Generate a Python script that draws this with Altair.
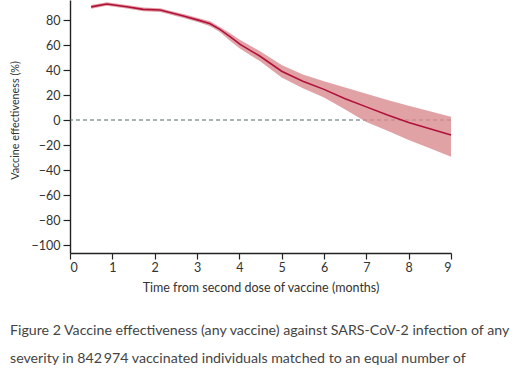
import altair as alt
import pandas as pd

months = [0.5, 0.87, 1.34, 1.73, 2.13, 2.36, 2.68, 3.07, 3.31, 3.54, 3.78, 4.02, 4.49,
          5.0, 5.5, 6.0, 6.5, 7.0, 7.5, 8.0, 8.5, 9.0]
ve = [90.5, 92.8, 90.6, 88.5, 88.0, 86.0, 83.2, 79.5, 77.0, 72.5, 66.7, 60.5, 51.0,
      39.0, 31.0, 24.5, 17.0, 10.5, 4.0, -2.0, -7.0, -12.0]
upper = [92.0, 94.2, 92.0, 90.0, 89.5, 87.5, 84.8, 81.2, 79.0, 74.5, 69.5, 64.0, 55.0,
         44.0, 36.5, 31.0, 26.0, 21.0, 16.0, 11.5, 7.0, 2.7]
lower = [89.0, 91.4, 89.2, 87.0, 86.5, 84.5, 81.6, 77.8, 75.0, 70.5, 63.5, 57.0, 47.0,
         34.0, 25.5, 18.0, 8.5, -1.5, -8.5, -16.0, -22.5, -29.3]

x_ticks = [0, 1, 2, 3, 4, 5, 6, 7, 8, 9]
y_ticks = [-100, -80, -60, -40, -20, 0, 20, 40, 60, 80]

caption = [
    "Figure 2  Vaccine effectiveness (any vaccine) against SARS-CoV-2 infection of any",
    "severity in 842\u2009974 vaccinated individuals matched to an equal number of",
]

df = pd.DataFrame({"m": months, "ve": ve, "lo": lower, "hi": upper})
zero = pd.DataFrame({"z": [0]})

FONT = "Lato"

xs = alt.Scale(domain=[0, 9], nice=False)
ys = alt.Scale(domain=[-106.4, 96], nice=False, zero=False)

x_axis = alt.Axis(values=x_ticks, title="Time from second dose of vaccine (months)",
                  tickSize=6, labelPadding=2, titlePadding=8, labelOverlap=False)
y_axis = alt.Axis(values=y_ticks, title="Vaccine effectiveness (%)",
                  tickSize=7, labelPadding=3, titleX=-55, titleY=120,
                  titleAlign="center", titleBaseline="middle", titleAngle=270,
                  labelOverlap=False)

band = alt.Chart(df).mark_area(color="#d98b90", opacity=0.8).encode(
    x=alt.X("m:Q", scale=xs, axis=x_axis),
    y=alt.Y("lo:Q", scale=ys, axis=y_axis),
    y2="hi:Q",
)

line = alt.Chart(df).mark_line(color="#b0103a", strokeWidth=1.6).encode(
    x=alt.X("m:Q", scale=xs, axis=x_axis),
    y=alt.Y("ve:Q", scale=ys, axis=y_axis),
)

rule = alt.Chart(zero).mark_rule(color="#4f6b69", strokeDash=[4, 3], strokeWidth=1.2).encode(
    y=alt.Y("z:Q", scale=ys, axis=y_axis),
)

chart = (
    alt.layer(rule, band, line)
    .properties(
        width=381,
        height=253,
        autosize=alt.AutoSizeParams(type="none"),
        padding={"left": 70, "top": 0, "right": 60, "bottom": 112},
        title=alt.TitleParams(
            text=caption,
            orient="bottom",
            anchor="start",
            frame="group",
            fontSize=14.2,
            fontWeight="normal",
            font=FONT,
            color="#444444",
            lineHeight=28,
            offset=30,
            dx=-60,
        ),
    )
    .configure_view(stroke=None)
    .configure_axis(
        grid=False,
        domainColor="#222222",
        domainWidth=1.4,
        tickColor="#222222",
        tickWidth=1.2,
        labelFont=FONT,
        labelFontSize=12.5,
        labelColor="#333333",
        titleFont=FONT,
        titleFontSize=12.5,
        titleFontWeight="normal",
        titleColor="#333333",
    )
    .configure_axisY(titleFontSize=10.8)
)

chart.save("out.html", embed_options={"renderer": "svg", "actions": False})
